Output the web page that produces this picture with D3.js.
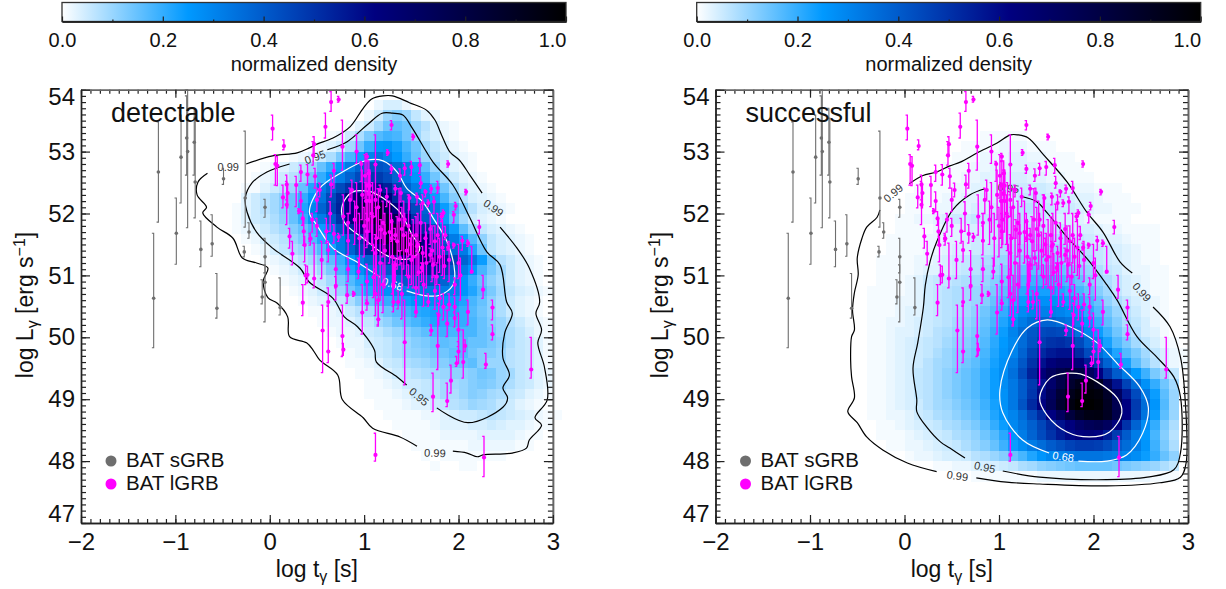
<!DOCTYPE html>
<html lang="en">
<head>
<meta charset="UTF-8">
<title>detectable and successful GRB density</title>
<style>
  body { margin: 0; background: #fff; }
  text { font-family: "Liberation Sans", Arial, sans-serif; fill: #111; }
  .cell { shape-rendering: crispEdges; }
  .contour { fill: none; stroke-width: 1.2px; }
  .axis path { stroke: #222; stroke-width: 1.4px; fill: none; }
  .axis line { stroke: #222; stroke-width: 1.2px; }
  .axis.far path { stroke: #666; stroke-width: 1.6px; }
  .axis text { font-size: 24px; }
  .cbar .axis text { font-size: 20px; }
</style>
</head>
<body>
<script src="https://cdnjs.cloudflare.com/ajax/libs/d3/7.8.5/d3.min.js"></script>
<script>

// density cells: one row per 1/6 dex of log L from 54 down, one value per 0.1 dex of log t
// counted from t = -0.5 after the row's start offset. values are percent of the peak.
var detectableStart = [0,16,15,13,11,9,7,4,3,2,2,1,1,1,2,3,4,5,6,7,8,9,10,11,12,13,13,14,15,15,16,17,18,19,20,21,22];
var detectableRows = [
  [],
  [2,4,4,2],
  [2,5,10,12,10,6,3,2],
  [1,3,5,9,14,16,14,10,7,4,2,1],
  [1,2,5,8,13,17,19,18,14,10,6,4,2,1],
  [1,2,3,5,9,14,20,25,26,23,18,14,9,6,4,2,1],
  [1,2,3,5,8,13,18,24,30,34,30,25,20,15,10,7,5,3,2,1],
  [1,2,3,5,7,10,15,20,25,32,38,42,42,40,36,32,24,16,10,5,3,2,1],
  [1,2,3,5,7,10,14,20,26,32,38,44,48,48,44,38,32,26,20,14,9,5,3,2,1],
  [1,1,3,5,7,10,15,22,32,38,44,50,55,58,58,54,46,38,32,26,20,14,9,5,3,2,1],
  [3,5,7,9,12,15,20,26,34,44,52,62,70,74,72,62,52,44,36,30,24,18,12,7,4,3,2,1],
  [1,3,5,7,9,12,15,22,30,38,46,54,62,74,84,88,76,62,52,44,38,32,24,18,12,7,4,3,2,1],
  [1,3,5,6,8,11,15,20,26,32,40,50,62,76,86,90,86,76,62,50,40,32,24,16,9,5,3,2,1],
  [1,2,3,5,7,9,12,15,19,24,32,42,52,62,74,84,92,88,76,62,52,42,32,24,16,10,6,4,3,2,1],
  [1,2,4,5,7,10,13,17,22,27,32,40,50,62,76,86,92,90,78,62,50,40,32,24,17,11,6,4,3,2,1],
  [1,2,4,6,8,10,13,17,23,32,38,46,54,62,76,88,92,85,62,50,42,36,32,22,14,6,4,3,2,1],
  [1,2,3,5,7,9,12,16,20,26,32,38,44,50,56,62,66,68,64,56,46,38,32,24,14,7,5,3,2,1],
  [1,2,3,5,6,9,13,18,22,27,32,36,40,46,50,54,56,54,48,40,32,25,18,13,9,5,3,2,1],
  [1,2,3,4,6,9,13,17,21,25,29,32,36,40,43,44,42,38,32,26,20,15,11,8,5,3,2,1],
  [1,2,3,5,7,10,14,18,22,25,27,29,31,32,33,33,32,30,26,22,17,13,9,6,4,3,2,1],
  [1,2,3,4,6,8,12,15,18,20,22,24,26,28,28,26,24,22,18,15,11,8,5,3,2,1],
  [1,1,2,3,5,7,9,12,15,17,19,21,22,23,22,22,20,17,14,11,8,5,3,2,1],
  [1,2,2,3,5,6,9,11,14,16,18,20,22,21,20,20,18,15,12,10,7,5,3,2,1],
  [1,2,2,3,5,6,8,10,12,14,16,18,19,18,18,18,15,13,10,8,6,4,2,1],
  [1,2,2,4,5,6,8,10,12,13,15,16,15,17,15,15,13,11,8,6,5,3,1],
  [1,2,3,5,6,8,10,11,12,14,14,16,17,14,12,12,10,7,6,5,3,1],
  [1,1,2,3,5,6,8,9,10,12,12,14,15,16,12,10,10,7,6,5,3,1],
  [1,1,2,3,5,6,7,8,9,10,11,11,12,14,13,10,9,6,5,3,2],
  [1,1,2,3,5,5,6,7,9,9,10,12,13,12,10,8,6,5,3,2],
  [1,1,1,2,3,5,6,7,9,8,10,12,11,9,8,6,5,3,2,1],
  [1,1,1,2,3,3,5,6,7,8,10,9,8,6,5,3,2,1],
  [1,1,1,1,2,2,3,4,5,5,6,7,6,5,4,3,2,1,1],
  [1,1,1,1,2,3,3,3,4,4,5,4,3,3,2,1,1],
  [1,1,1,1,2,2,2,2,3,3,3,3,2,1,1],
  [1,1,1,1,1,1,2,2,2,2,2,1,1],
  [1,0,1,1,1,1,1,1,1],
  [1,0,0,1,1]
];

var successfulStart = [0,0,0,0,13,11,10,9,8,6,5,5,4,4,3,3,2,2,2,1,1,1,1,1,1,1,1,1,1,1,1,1,1,2,3,5,8,12];
var successfulRows = [
  [],[],[],[],
  [1,1,1,1,1],
  [1,1,1,1,2,2,2,1,1,1],
  [1,1,1,2,2,2,3,3,2,2,1,1,1],
  [1,1,1,2,2,3,3,3,3,3,2,2,1,1,1],
  [1,1,1,2,2,3,3,4,4,4,3,3,2,2,1,1,1],
  [1,1,1,1,2,2,3,3,4,5,5,5,5,5,4,4,3,2,2,1,1,1],
  [1,1,1,1,2,2,3,3,4,4,5,5,6,6,6,5,5,4,3,3,2,1,1,1],
  [1,1,1,2,2,3,3,4,4,5,5,6,7,7,6,6,5,5,4,3,2,2,1,1,1],
  [1,1,2,2,3,4,5,5,6,6,7,7,7,7,6,6,5,4,4,3,2,1,1,1,1],
  [1,1,1,1,2,3,3,4,4,5,6,6,7,7,7,7,6,6,5,4,4,3,2,2,1,1,1,1],
  [1,1,1,1,2,2,3,3,4,5,5,6,7,8,8,9,9,8,8,7,6,5,4,3,3,2,1,1,1],
  [1,1,1,1,2,2,3,4,4,5,6,7,8,9,10,10,11,10,10,9,8,7,6,5,4,3,2,1,1],
  [1,1,1,1,2,2,3,4,5,6,7,8,9,10,11,12,13,13,12,12,11,9,8,6,5,4,3,2,1,1],
  [1,1,1,1,2,3,3,4,5,6,7,9,10,12,13,15,16,16,15,15,14,12,10,8,6,5,3,2,2,1,1],
  [1,1,1,2,3,5,6,6,7,8,9,10,12,14,16,18,19,19,19,18,17,15,12,10,8,6,4,3,2,1,1],
  [1,1,1,1,2,3,5,6,7,8,9,10,11,13,16,18,21,22,23,23,22,20,18,15,12,9,6,4,3,2,1,1],
  [1,1,1,2,2,3,5,6,7,8,9,10,12,15,18,21,24,26,27,27,26,24,21,18,15,11,8,6,4,3,2,1],
  [1,1,1,2,3,3,5,6,7,8,9,11,14,17,20,24,28,30,31,31,30,28,25,21,17,14,10,7,5,3,2,1],
  [1,1,2,2,3,4,5,6,7,9,10,12,15,18,22,27,32,36,38,38,36,34,30,25,20,16,12,8,6,4,2,1],
  [1,1,2,3,3,4,5,7,8,10,11,13,16,20,24,30,36,41,44,45,44,40,35,29,24,19,14,10,7,4,3,1],
  [1,1,2,3,4,5,6,7,9,11,12,14,17,21,25,29,36,42,47,50,51,49,44,37,30,23,17,13,9,6,4,2,1],
  [1,1,2,3,4,5,6,8,10,12,13,15,18,22,26,30,38,46,52,56,58,58,52,44,36,30,22,17,13,9,6,4,2,1],
  [1,1,2,3,4,5,7,9,10,12,14,16,19,23,27,33,41,50,58,64,68,68,64,56,47,38,30,23,16,11,7,4,2,1],
  [1,1,2,3,4,6,7,9,11,13,15,17,20,24,28,35,44,54,64,72,78,82,80,72,62,50,40,32,25,19,13,9,6],
  [1,1,2,3,4,6,7,9,11,13,15,17,20,24,28,33,40,48,58,68,78,86,92,94,90,74,58,46,36,27,20,14,9],
  [1,1,2,3,4,6,7,9,11,13,15,17,20,24,27,33,40,49,60,72,84,92,97,98,96,88,72,56,44,33,24,16,10],
  [1,1,2,3,4,5,7,9,10,12,14,16,19,23,27,33,42,52,62,74,86,95,100,100,98,90,76,62,48,36,26,17,10],
  [1,1,2,2,3,5,6,8,9,11,13,15,18,22,26,30,36,44,52,62,72,82,90,94,95,90,78,62,47,34,24,16,10],
  [0,1,1,2,3,4,5,6,8,9,11,13,16,20,24,29,34,39,45,52,58,63,70,74,76,72,63,50,38,28,20,13,8],
  [1,1,1,2,3,4,5,6,8,9,11,14,17,21,26,32,38,44,50,56,60,63,64,62,56,48,40,32,25,18,12,7],
  [1,1,2,2,3,4,5,6,8,10,12,15,19,24,28,32,36,40,43,46,48,48,47,44,40,36,32,26,19,13,8],
  [1,2,2,3,4,4,5,7,8,10,12,15,18,22,26,29,31,33,34,34,34,33,32,30,28,24,20,15,11],
  [1,1,2,2,3,4,4,5,6,8,9,11,12,13,14,15,15,15,15,14,13,12,11,10,8,6],
  [1,1,1,1,1,1,1,2,2,2,2,2,2,2,2,2,2,2,2,1,1,1]
];

// observed bursts: log t, log L, upper end, lower end of the error bar
var sgrbPoints = [
  [-1.18,52.67,53.48,51.86],[-1.23,50.63,51.68,49.83],[-0.99,51.68,52.25,51.18],[-0.94,52.91,53.59,52.17],
  [-0.88,53.22,53.9,52.62],[-0.87,53.0,54,51.77],[-0.8,53.15,53.7,52.62],[-0.79,52.51,53.54,51.93],
  [-0.73,51.42,51.88,51.14],[-0.61,51.51,51.98,51.31],[-0.56,50.47,51.03,50.31],[-0.49,52.56,52.73,52.47],
  [-0.26,52.25,53.33,51.78],[-0.27,51.38,51.47,51.3],[-0.22,51.7,51.85,51.6],[-0.05,52.1,52.23,51.94],
  [-0.05,51.3,51.6,51.04],[-0.05,50.89,51.17,50.25],[-0.08,50.65,50.93,50.54],[0.11,50.48,50.96,50.36]
];

var lgrbPoints = [
  [0.65,53.8,53.97,53.65],[0.73,53.84,53.89,53.8],[1.29,53.43,53.5,53.35],[1.52,53.24,53.28,53.19],
  [0.59,53.4,53.62,53.22],[1.25,52.98,53.03,52.94],[1.89,52.8,52.85,52.75],[2.08,52.35,52.39,52.3],
  [1.97,52.12,52.18,52.06],[2.22,51.78,51.89,51.67],[0.47,53.12,53.24,52.92],[0.46,52.94,53.16,52.78],
  [0.77,53.08,53.51,52.7],[0.92,53.0,53.27,52.81],[1.03,52.92,52.97,52.84],[0.68,52.69,52.81,52.41],
  [0.48,52.6,52.73,52.41],[0.65,52.47,52.62,52.27],[0.53,52.38,52.49,52.27],[0.97,52.8,52.84,52.52],
  [1.01,52.61,52.95,52.25],[1.05,52.65,52.7,52.3],[1.12,52.79,53.27,52.3],[1.29,52.72,52.78,52.65],
  [1.38,52.61,52.72,52.52],[1.43,52.73,52.81,52.62],[1.5,52.75,52.84,52.62],[1.59,52.78,52.89,52.65],
  [1.6,52.49,52.6,52.41],[1.78,52.41,52.52,52.33],[1.71,52.4,52.46,52.33],[1.65,52.35,52.38,52.27],
  [1.33,52.4,52.46,52.3],[0.87,52.38,52.54,52.22],[0.85,52.22,52.41,52.0],[0.5,52.22,52.41,52.03],
  [1.05,52.33,52.49,52.22],[1.17,52.38,52.46,52.27],[1.24,52.27,52.41,52.11],[1.12,52.22,52.35,51.95],
  [1.39,52.33,52.41,52.19],[1.48,52.25,52.3,52.06],[1.56,52.27,52.33,52.14],[1.62,52.17,52.3,52.06],
  [1.68,52.17,52.22,52.11],[1.74,52.19,52.27,52.0],[0.64,52.0,52.19,51.71],[0.45,51.9,52.0,51.7],
  [0.5,51.8,51.92,51.63],[0.83,51.85,52.0,51.55],[0.6,51.71,51.92,51.52],[0.68,51.67,51.82,51.52],
  [0.73,51.62,51.68,51.55],[0.43,51.6,51.65,51.55],[0.83,51.56,51.8,51.33],[1.04,51.9,52.22,51.5],
  [1.03,51.71,52.0,51.45],[1.18,51.74,51.9,51.6],[1.29,51.87,52.0,51.68],[1.43,51.9,52.0,51.8],
  [1.29,51.6,51.7,51.55],[1.33,51.65,51.76,51.58],[1.22,51.68,51.82,51.5],[1.12,51.36,51.66,50.75],
  [0.62,51.41,51.55,51.22],[0.38,51.0,51.17,50.85],[0.47,50.95,51.52,50.8],[0.83,51.1,51.28,50.9],
  [0.94,51.06,51.28,50.95],[0.7,50.83,50.98,50.6],[0.82,50.68,50.85,50.55],[0.89,50.7,50.74,50.66],
  [1.03,50.9,51.18,50.55],[1.1,50.97,51.5,50.64],[1.33,51.17,51.28,50.9],[1.32,51.0,51.22,50.8],
  [1.31,50.85,51.18,50.5],[1.38,51.28,51.39,51.17],[1.5,51.25,51.68,50.85],[1.49,51.5,51.6,51.33],
  [1.56,51.47,51.55,51.39],[1.62,51.36,51.47,51.06],[1.61,51.12,51.2,50.9],[1.47,50.98,51.17,50.8],
  [1.7,51.33,51.44,51.22],[1.86,51.65,51.79,51.58],[1.82,51.95,52.0,51.87],[1.84,52.01,52.06,51.95],
  [1.95,51.98,52.03,51.85],[1.89,51.45,51.52,51.41],[1.95,51.49,51.52,51.44],[2.04,51.56,51.63,51.41],
  [2.1,51.52,51.57,51.47],[2.14,51.06,51.47,51.04],[1.73,51.17,51.28,50.97],[2.02,51.0,51.28,50.6],
  [1.96,50.85,50.96,50.69],[1.8,50.63,50.85,50.52],[2.26,50.77,51.0,50.63],[1.77,50.98,51.17,50.85],
  [0.03,53.37,53.59,53.19],[0.15,53.09,53.19,53.03],[0.06,52.8,52.95,52.46],[0.08,52.77,52.92,52.45],
  [0.14,52.26,52.46,52.09],[0.18,52.14,52.52,51.82],[0.18,52.47,52.62,52.22],[0.19,52.33,52.44,52.09],
  [0.28,52.46,52.6,52.11],[0.33,52.67,52.78,52.52],[0.4,52.63,52.79,52.46],[0.33,52.2,52.35,52.03],
  [0.31,52.04,52.08,52.0],[0.35,51.92,52.03,51.81],[0.36,51.71,51.92,51.49],[0.43,51.59,51.68,51.49],
  [0.21,51.63,51.76,51.44],[0.24,51.35,51.55,51.17],[0.37,51.49,51.63,51.22],[0.4,51.01,51.15,50.88],
  [0.35,50.56,50.85,50.35],[0.56,50.11,50.52,49.43],[0.62,49.77,50.52,49.59],[0.62,50.57,50.8,50.5],
  [0.77,50.02,50.52,49.69],[0.78,49.8,49.9,49.71],[1.03,50.55,50.6,50.44],[1.15,50.29,50.55,50.18],
  [1.43,49.92,50.6,49.23],[1.55,50.41,50.6,50.33],[1.71,50.11,50.2,50.03],[1.78,49.86,50.39,49.48],
  [1.79,50.36,50.55,50.2],[1.88,50.22,50.44,50.01],[2.0,50.12,50.39,49.85],[1.96,50.31,50.39,50.17],
  [2.0,49.77,49.93,49.58],[1.98,49.58,49.69,49.53],[2.05,49.6,50.12,49.34],[2.07,49.86,49.96,49.77],
  [2.1,50.41,50.6,50.2],[2.29,49.56,49.74,49.5],[2.36,50.05,50.2,49.96],[2.36,50.48,50.6,50.28],
  [2.77,49.48,50.0,49.34],[1.73,49.04,49.42,48.8],[1.88,48.97,49.26,48.88],[1.92,49.3,49.55,49.1],
  [1.12,48.1,48.45,48.0],[2.27,48.06,48.4,47.75],[1.31,50.57,50.7,50.41],[1.36,50.57,50.75,50.46],
  [1.68,50.57,50.7,50.5],[1.84,50.49,50.7,50.28],[1.9,50.53,50.7,50.44],[1.96,50.49,50.65,50.41],
  [1.05,52.65,52.85,52.3],[1.06,52.45,52.7,52.2],[1.02,52.2,52.5,51.6],[1.08,52.0,52.3,51.5],
  [1.0,51.8,52.1,51.3],[1.15,52.1,52.4,51.6],[1.2,51.85,52.2,51.3],[1.27,51.7,52.2,51.2],
  [1.35,51.55,51.95,51.1],[1.4,51.75,52.1,51.4],[1.45,51.4,51.7,51.0],[1.55,51.65,51.95,51.3],
  [1.6,51.85,52.15,51.55],[1.65,51.6,51.85,51.3],[1.7,51.75,52,51.5],[1.75,51.55,51.8,51.2],
  [1.8,51.3,51.6,51.05],[1.85,51.15,51.4,50.95],[1.9,51.25,51.55,50.9],[2.0,51.2,51.5,50.95],
  [1.58,51.05,51.35,50.7],[1.63,50.85,51.2,50.5],[1.75,50.75,51.0,50.45],[1.12,50.7,51.1,50.35],
  [1.2,50.85,51.2,50.4],[0.95,51.6,52,51.15],[0.9,51.9,52.2,51.5],[0.78,51.95,52.3,51.65],
  [0.55,51.25,51.55,50.95],[0.7,51.1,51.4,50.8],[0.98,50.4,50.85,50.05],
  [1.03,52.45,52.85,51.9],[1.06,52.2,52.7,51.7],[1.09,51.95,52.5,51.4],[1.13,51.6,52.1,51.0],
  [1.17,51.2,51.8,50.6],[1.22,51.4,52.0,50.8],[1.3,51.3,51.9,50.7],[1.37,51.9,52.4,51.4],
  [1.42,51.65,52.2,51.1],[1.47,51.8,52.3,51.3],[1.52,51.3,51.9,50.8],[1.57,51.5,52.0,51.0],
  [1.66,51.2,51.7,50.8],[1.72,51.4,51.8,50.9],[1.78,51.65,52.0,51.2],[1.83,51.45,51.9,51.0],
  [0.92,52.1,52.5,51.7],[0.98,52.3,52.7,51.9],[1.15,50.6,51.0,50.2],[1.4,50.7,51.2,50.3],[1.55,50.8,51.3,50.4]
];

// contours in data units, broken where a label sits
var detectableContours = [
  {color: "#000", line: [[-0.25,52.8],[0.03,52.93],[0.29,52.98],[0.42,53.06],[0.5,53.12],[0.67,53.22],[0.85,53.4],[0.99,53.7],[1.08,53.85],[1.2,53.9],[1.3,53.9],[1.48,53.79],[1.66,53.67],[1.75,53.51],[1.82,53.27],[1.91,52.99],[2.01,52.86],[2.12,52.62],[2.25,52.33]]},
  {color: "#000", line: [[2.44,51.78],[2.62,51.44],[2.75,51.12],[2.86,50.57],[2.82,50.39],[2.88,50.12],[2.84,49.91],[2.91,49.52],[2.94,48.99],[2.81,48.7],[2.88,48.58],[2.75,48.34],[2.72,48.21],[2.57,48.13],[2.26,48.1],[2.2,48.07],[2.09,48.13],[1.94,48.16]]},
  {color: "#000", line: [[1.56,48.24],[1.38,48.39],[1.09,48.53],[0.99,48.7],[0.77,48.99],[0.72,49.39],[0.53,49.63],[0.46,49.79],[0.39,49.91],[0.21,50.01],[0.19,50.33],[0.08,50.55],[-0.02,50.64],[-0.07,50.9],[-0.02,51.12],[-0.14,51.2],[-0.29,51.28],[-0.39,51.6],[-0.56,51.78],[-0.71,52.01],[-0.67,52.1],[-0.77,52.3],[-0.76,52.51],[-0.66,52.65]]},
  {color: "#000", line: [[0.21,52.8],[-0.03,52.67],[-0.19,52.49],[-0.26,52.25],[-0.24,52.02],[-0.14,51.7],[0.03,51.44],[0.32,51.12],[0.42,50.89],[0.67,50.63],[0.79,50.33],[0.93,50.17],[1.11,49.79],[1.13,49.6],[1.35,49.36],[1.45,49.23]]},
  {color: "#000", line: [[1.77,48.86],[2.1,48.62],[2.47,48.87],[2.52,49.02],[2.47,49.18],[2.54,49.39],[2.47,49.67],[2.49,50.07],[2.57,50.39],[2.51,50.57],[2.44,51.17],[2.3,51.38],[2.12,51.93],[1.94,52.46],[1.73,52.83],[1.51,53.38],[1.41,53.59],[1.3,53.62],[1.19,53.62],[1.03,53.43],[0.82,53.16],[0.61,53.03]]},
  {color: "#fff", line: [[1.45,50.75],[1.66,50.67],[1.8,50.68],[1.94,50.84],[1.96,51.05],[1.88,51.54],[1.73,51.93],[1.62,52.19],[1.45,52.41],[1.35,52.67],[1.2,52.85],[1.03,52.86],[0.77,52.67],[0.53,52.41],[0.42,52.02],[0.5,51.81],[0.67,51.44],[0.92,51.22],[1.17,50.97]]},
  {color: "#fff", line: [[1.08,52.35],[0.88,52.35],[0.77,52.14],[0.79,51.86],[0.99,51.6],[1.27,51.3],[1.51,51.28],[1.59,51.44],[1.51,51.65],[1.38,52.02],[1.2,52.25],[1.08,52.35]]}
];

var successfulContours = [
  {color: "#000", line: [[0.05,52.48],[0.19,52.61],[0.34,52.67],[0.48,52.77],[0.59,52.83],[0.77,52.98],[0.98,53.14],[1.12,53.27],[1.2,53.27],[1.31,53.22],[1.47,52.95],[1.72,52.51],[1.93,52.02],[2.1,51.7],[2.28,51.22],[2.41,51.04]]},
  {color: "#000", line: [[2.63,50.49],[2.81,50.17],[2.92,49.68],[2.97,48.99],[2.98,47.97],[2.92,47.74],[2.7,47.65],[2.14,47.6],[1.43,47.63],[1.08,47.66],[0.76,47.73]]},
  {color: "#000", line: [[0.34,47.83],[0.03,47.97],[-0.23,48.18],[-0.4,48.39],[-0.5,48.62],[-0.6,48.8],[-0.53,49.02],[-0.56,49.36],[-0.57,49.63],[-0.56,50.01],[-0.53,50.12],[-0.55,50.44],[-0.53,50.72],[-0.49,51.01],[-0.5,51.28],[-0.45,51.6],[-0.4,51.78],[-0.29,51.94],[-0.26,52.06]]},
  {color: "#000", line: [[0.85,52.4],[0.69,52.3],[0.51,52.06],[0.34,51.54],[0.27,51.22],[0.22,50.84],[0.2,50.49],[0.14,49.91],[0.09,49.5],[0.13,48.99],[0.13,48.8],[0.24,48.54],[0.38,48.31],[0.48,48.21],[0.64,48.05]]},
  {color: "#000", line: [[1.04,47.84],[1.43,47.74],[2.14,47.7],[2.57,47.74],[2.85,47.86],[2.92,48.13],[2.92,49.04],[2.85,49.36],[2.67,49.68],[2.46,50.01],[2.25,50.6],[2.14,50.85],[1.96,51.22],[1.72,51.62],[1.51,52.01],[1.4,52.19],[1.25,52.27]]},
  {color: "#fff", line: [[1.84,48.0],[2.14,48.0],[2.35,48.1],[2.52,48.45],[2.58,48.87],[2.49,49.2],[2.25,49.58],[2.04,49.91],[1.78,50.15],[1.51,50.28],[1.3,50.15],[1.14,49.79],[1.01,49.15],[1.04,48.78],[1.25,48.34],[1.53,48.13]]},
  {color: "#fff", line: [[1.72,49.42],[1.54,49.34],[1.43,49.02],[1.51,48.74],[1.72,48.47],[1.96,48.39],[2.17,48.47],[2.3,48.78],[2.25,49.02],[2.04,49.28],[1.86,49.41],[1.72,49.42]]}
];

// contour labels: log t, log L, text, angle, colour
var detectableLabels = [
  [-0.44,52.75,"0.99",0,"#333"],[0.48,52.91,"0.95",-20,"#333"],[2.37,52.09,"0.99",35,"#333"],
  [1.58,49.04,"0.95",40,"#333"],[1.75,48.13,"0.99",2,"#333"],[1.3,50.86,"0.68",18,"#fff"]
];
var successfulLabels = [
  [-0.12,52.33,"0.99",-40,"#333"],[1.1,52.41,"0.95",8,"#333"],[2.51,50.73,"0.99",48,"#333"],
  [0.85,47.9,"0.95",12,"#333"],[0.56,47.76,"0.99",8,"#333"],[1.68,48.07,"0.68",8,"#fff"]
];

var xTicks = [-2,-1,0,1,2,3];
var yTicks = [47,48,49,50,51,52,53,54];
var barTicks = [0,0.2,0.4,0.6,0.8,1];
var legendNames = ["BAT sGRB","BAT lGRB"];
var legendColors = ["#6e6e6e","#ff00ff"];
var panelNames = ["detectable","successful"];

var densityColor = d3.scaleLinear()
  .domain([0,0.25,0.62,1])
  .range(["#ffffff","#0099ff","#000080","#000000"]);

var svg = d3.select("body").append("svg")
  .attr("width",1226)
  .attr("height",589);

var grad = svg.append("defs").append("linearGradient")
  .attr("id","ramp");

grad.selectAll("stop")
  .data(densityColor.domain())
  .enter()
  .append("stop")
    .attr("offset",function(d){ return d; })
    .attr("stop-color",function(d){ return densityColor(d); });

drawPanel(panelNames[0],81,552.9,62,566,detectableStart,detectableRows,detectableContours,detectableLabels);
drawPanel(panelNames[1],715.5,1188,696.7,1200.7,successfulStart,successfulRows,successfulContours,successfulLabels);

function drawPanel(name,left,right,barLeft,barRight,starts,rows,contours,labels) {

  var x = d3.scaleLinear().domain([-2,3]).range([left,right]),
      y = d3.scaleLinear().domain([47,54]).range([523,89.7]);

  var g = svg.append("g");

  // density cells
  var cells = [];
  rows.forEach(function(row,j){
    row.forEach(function(v,k){
      if (v > 0) cells.push({t: -0.5 + (starts[j] + k) * 0.1, l: 54 - j / 6, v: v / 100});
    });
  });

  g.selectAll("rect.cell")
    .data(cells)
    .enter()
    .append("rect")
      .attr("class","cell")
      .attr("x",function(d){ return x(d.t); })
      .attr("y",function(d){ return y(d.l); })
      .attr("width",x(0.1) - x(0))
      .attr("height",y(54 - 1 / 6) - y(54))
      .attr("fill",function(d){ return densityColor(d.v); });

  // contours under the points
  var line = d3.line()
    .x(function(d){ return x(d[0]); })
    .y(function(d){ return y(d[1]); })
    .curve(d3.curveCatmullRom.alpha(0.5));

  g.selectAll("path.contour")
    .data(contours)
    .enter()
    .append("path")
      .attr("class","contour")
      .attr("stroke",function(d){ return d.color; })
      .attr("d",function(d){ return line(d.line); });

  g.selectAll("text.clabel")
    .data(labels)
    .enter()
    .append("text")
      .attr("class","clabel")
      .attr("text-anchor","middle")
      .attr("dy","0.35em")
      .attr("font-size",11)
      .style("fill",function(d){ return d[4]; })
      .attr("transform",function(d){
        return "translate(" + x(d[0]) + "," + y(d[1]) + ") rotate(" + d[3] + ")";
      })
      .text(function(d){ return d[2]; });

  drawPoints(g,sgrbPoints,x,y,legendColors[0],1.1,1.8);
  drawPoints(g,lgrbPoints,x,y,legendColors[1],1.3,2.1);

  // frame and ticks on all four sides, pointing in
  var xMinor = d3.range(-2,3.001,0.1),
      yMinor = d3.range(47,54.001,0.1);

  drawAxis(g,d3.axisBottom(x).tickValues(xMinor).tickSize(-4).tickFormat(""),0,523);
  drawAxis(g,d3.axisTop(x).tickValues(xMinor).tickSize(-4).tickFormat(""),0,89.7).classed("far",true);
  drawAxis(g,d3.axisLeft(y).tickValues(yMinor).tickSize(-5).tickFormat(""),left,0);
  drawAxis(g,d3.axisRight(y).tickValues(yMinor).tickSize(-5).tickFormat(""),right,0).classed("far",true);
  drawAxis(g,d3.axisTop(x).tickValues(xTicks).tickSize(-8).tickFormat(""),0,89.7).classed("far",true);
  drawAxis(g,d3.axisRight(y).tickValues(yTicks).tickSize(-9).tickFormat(""),right,0).classed("far",true);

  var xAxis = drawAxis(g,d3.axisBottom(x).tickValues(xTicks).tickSize(-8).tickPadding(10).tickFormat(d3.format("d")),0,523);
  xAxis.selectAll("text").attr("dy","0.71em");

  var yAxis = drawAxis(g,d3.axisLeft(y).tickValues(yTicks).tickSize(-9).tickPadding(6).tickFormat(d3.format("d")),left,0);
  yAxis.selectAll("text")
    .attr("dy",function(d){ return d == 54 ? "0.62em" : d == 47 ? "-0.08em" : "0.32em"; });

  // panel name and legend
  g.append("text")
    .attr("x",left + 30)
    .attr("y",122)
    .attr("font-size",27)
    .text(name);

  legendNames.forEach(function(label,i){
    g.append("circle")
      .attr("cx",left + 30)
      .attr("cy",461 + i * 23)
      .attr("r",5.5)
      .attr("fill",legendColors[i]);
    g.append("text")
      .attr("x",left + 45)
      .attr("y",467 + i * 23)
      .attr("font-size",20.5)
      .text(label);
  });

  // axis titles
  var xTitle = g.append("text")
    .attr("x",(left + right) / 2)
    .attr("y",577)
    .attr("text-anchor","middle")
    .attr("font-size",23);
  xTitle.append("tspan").text("log t");
  xTitle.append("tspan").attr("dy",5).attr("font-size",16).text("\u03b3");
  xTitle.append("tspan").attr("dy",-5).text(" [s]");

  var yTitle = g.append("text")
    .attr("transform","translate(" + (left - 48) + ",305) rotate(-90)")
    .attr("text-anchor","middle")
    .attr("font-size",23);
  yTitle.append("tspan").text("log L");
  yTitle.append("tspan").attr("dy",5).attr("font-size",16).text("\u03b3");
  yTitle.append("tspan").attr("dy",-5).text(" [erg s");
  yTitle.append("tspan").attr("dy",-8).attr("font-size",16).text("\u22121");
  yTitle.append("tspan").attr("dy",8).text("]");

  // colour bar
  var bx = d3.scaleLinear().domain([0,1]).range([barLeft,barRight]);
  var bar = g.append("g").attr("class","cbar");

  bar.append("rect")
    .attr("x",barLeft)
    .attr("y",2.5)
    .attr("width",barRight - barLeft)
    .attr("height",19)
    .attr("fill","url(#ramp)");

  bar.append("rect")
    .attr("x",barLeft)
    .attr("y",2.5)
    .attr("width",barRight - barLeft)
    .attr("height",19)
    .attr("fill","none")
    .attr("stroke","#333")
    .attr("stroke-width",1.3);

  drawAxis(bar,d3.axisBottom(bx).tickValues(d3.range(0.1,1,0.2)).tickSize(-2).tickFormat(""),0,21.5);

  var barAxis = drawAxis(bar,d3.axisBottom(bx).tickValues(barTicks).tickSize(-5).tickPadding(11).tickFormat(d3.format(".1f")),0,21.5);
  barAxis.selectAll("text")
    .attr("text-anchor",function(d){ return d == 1 ? "end" : "middle"; })
    .attr("dy","0.71em");

  bar.append("text")
    .attr("x",(barLeft + barRight) / 2)
    .attr("y",71)
    .attr("text-anchor","middle")
    .attr("font-size",20)
    .text("normalized density");

}

function drawPoints(g,points,x,y,color,width,radius) {

  var p = g.append("g");

  p.selectAll("path")
    .data(points)
    .enter()
    .append("path")
      .attr("fill","none")
      .attr("stroke",color)
      .attr("stroke-width",width)
      .attr("d",function(d){
        var px = x(d[0]), top = y(d[2]), bottom = y(d[3]);
        return "M" + (px - 1.8) + "," + top + "H" + px + "V" + bottom + "H" + (px - 1.8);
      });

  p.selectAll("circle")
    .data(points)
    .enter()
    .append("circle")
      .attr("cx",function(d){ return x(d[0]); })
      .attr("cy",function(d){ return y(d[1]); })
      .attr("r",radius)
      .attr("fill",color);

}

function drawAxis(parent,axis,tx,ty) {

  return parent.append("g")
    .attr("class","axis")
    .attr("transform","translate(" + tx + "," + ty + ")")
    .call(axis.tickSizeOuter(0));

}

</script>
</body>
</html>
